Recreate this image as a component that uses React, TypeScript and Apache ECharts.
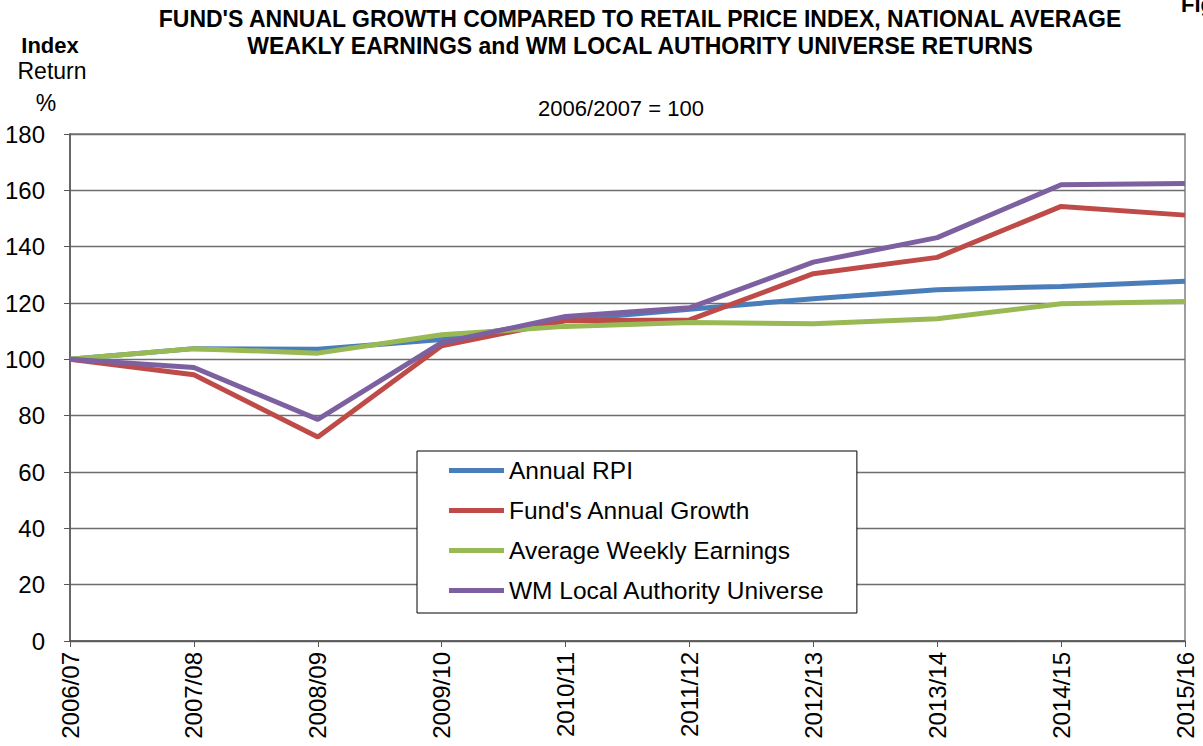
import React, { useEffect, useRef } from "react";
import * as echarts from "echarts";

const categories = ["2006/07", "2007/08", "2008/09", "2009/10", "2010/11", "2011/12", "2012/13", "2013/14", "2014/15", "2015/16"];
const annualRPI = [100, 103.8, 103.6, 107, 114, 117.8, 121.5, 124.7, 125.9, 127.7];
const fundGrowth = [100, 94.5, 72.4, 104.8, 113.7, 114, 130.4, 136.2, 154.3, 151.2];
const avgWeeklyEarnings = [100, 103.8, 102.2, 108.7, 111.7, 113.1, 112.6, 114.4, 119.7, 120.5];
const wmLocalAuthority = [100, 97.1, 78.7, 105.9, 115.2, 118.3, 134.5, 143.2, 162, 162.4];
const seriesNames = ["Annual RPI", "Fund's Annual Growth", "Average Weekly Earnings", "WM Local Authority Universe"];
const colors = ["#4A7EBB", "#BE4B48", "#98B954", "#7D60A0"];

export default function App() {
  const ref = useRef<HTMLDivElement>(null);
  useEffect(() => {
    if (!ref.current) return;
    const chart = echarts.init(ref.current, null, { renderer: "svg" });
    const font = "Arial, 'Liberation Sans', sans-serif";
    const data = [annualRPI, fundGrowth, avgWeeklyEarnings, wmLocalAuthority];
    const txt = (x: number, y: number, text: string, size: number, bold: boolean, align = "center") => ({
      type: "text",
      x,
      y,
      style: { text, fontSize: size, fontWeight: bold ? "bold" : "normal", fill: "#000", fontFamily: font, align, verticalAlign: "middle" },
    });
    chart.setOption({
      animation: false,
      backgroundColor: "#ffffff",
      textStyle: { fontFamily: font },
      graphic: [
        txt(640, 19, "FUND'S ANNUAL GROWTH COMPARED TO RETAIL PRICE INDEX, NATIONAL AVERAGE", 23, true),
        txt(640, 46, "WEAKLY EARNINGS and WM LOCAL AUTHORITY UNIVERSE RETURNS", 23, true),
        txt(1181, 4, "Figure", 22, true, "left"),
        txt(50, 45, "Index", 22, true),
        txt(52, 71, "Return", 23, false),
        txt(46, 103, "%", 23, false),
        txt(621, 108, "2006/2007 = 100", 22, false),
      ],
      grid: { left: 70, right: 18, top: 134, bottom: 105, show: true, borderColor: "#808080", borderWidth: 1.5, containLabel: false },
      legend: {
        orient: "vertical",
        left: 417,
        top: 451,
        padding: [7, 32, 10, 32],
        backgroundColor: "#ffffff",
        borderColor: "#000000",
        borderWidth: 1,
        itemWidth: 55,
        itemHeight: 24,
        itemGap: 15,
        icon: "path://M0,0 L55,0 L55,5 L0,5 Z",
        textStyle: { fontSize: 24.5, color: "#000", fontFamily: font },
        data: seriesNames,
      },
      xAxis: {
        type: "category",
        data: categories,
        boundaryGap: false,
        axisLine: { lineStyle: { color: "#555", width: 1.5 } },
        axisTick: { show: true, length: 6, lineStyle: { color: "#555" } },
        axisLabel: { rotate: 90, fontSize: 24, color: "#000", margin: 11, fontFamily: font },
        splitLine: { show: false },
      },
      yAxis: {
        type: "value",
        min: 0,
        max: 180,
        interval: 20,
        axisLine: { show: true, lineStyle: { color: "#555", width: 1.5 } },
        axisTick: { show: true, length: 6, lineStyle: { color: "#555" } },
        axisLabel: { fontSize: 24, color: "#000", margin: 25, fontFamily: font },
        splitLine: { show: true, lineStyle: { color: "#6e6e6e", width: 1.3 } },
      },
      series: seriesNames.map((name, i) => ({
        name,
        type: "line",
        data: data[i],
        showSymbol: false,
        symbol: "none",
        color: colors[i],
        lineStyle: { color: colors[i], width: 5 },
        itemStyle: { color: colors[i] },
        z: 2 + i,
      })),
    });
    return () => chart.dispose();
  }, []);
  return <div ref={ref} style={{ position: "absolute", left: 0, top: 0, width: 1203, height: 746 }} />;
}
